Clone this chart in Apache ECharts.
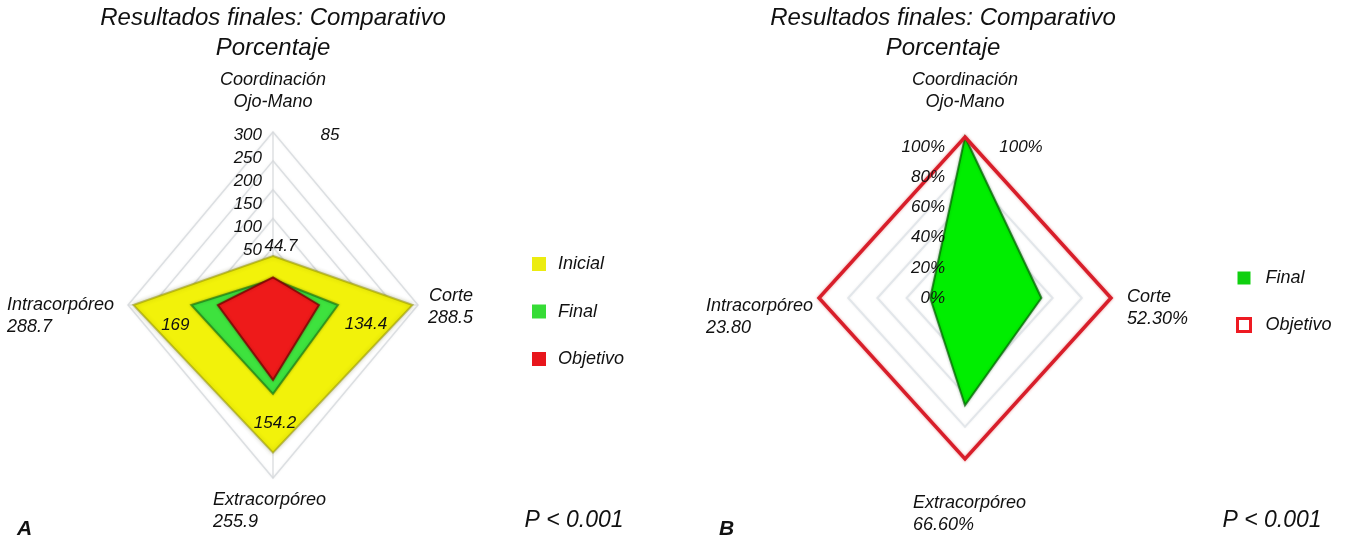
<!DOCTYPE html>
<html>
<head>
<meta charset="utf-8">
<script src="https://cdn.jsdelivr.net/npm/echarts@6/dist/echarts.min.js"></script>
<style>
  html, body { margin: 0; padding: 0; background: #fff; }
  #chart { width: 1346px; height: 540px; }
</style>
</head>
<body>
<div id="chart"></div>
<script>
// Spokes of both diagrams, clockwise from the top
const axisNames = ['Coordinación\nOjo-Mano', 'Corte', 'Extracorpóreo', 'Intracorpóreo'];

// Panel A: scores
const inicialA = [85, 288.5, 255.9, 288.7];
const finalA = [44.7, 134.4, 154.2, 169];
const objetivoA = [48, 95, 130, 114];
const ticksA = [0, 50, 100, 150, 200, 250, 300];

// Panel B: percentages
const finalB = [100, 52.3, 66.6, 23.8];
const objetivoB = [100, 100, 100, 100];
const ticksB = [0, 20, 40, 60, 80, 100];
const suffixB = ['', '%', '%', ''];

// Unit direction of each spoke in the x/y plane (up, right, down, left)
const DIRS = [[0, 1], [1, 0], [0, -1], [-1, 0]];
const FONT = '"Liberation Sans", Arial, sans-serif';

function txt(size, extra) {
  return Object.assign({
    fontFamily: FONT, fontStyle: 'italic', fontWeight: 'normal', fontSize: size, color: '#111',
    textBorderWidth: 0, textBorderColor: 'transparent'
  }, extra || {});
}

function vertex(api, v, i) {
  return api.coord([DIRS[i][0] * v, DIRS[i][1] * v]);
}

// Filled (or outlined) polygon of one data series
function polygonSeries(name, values, g, st) {
  return {
    type: 'custom', name: name, coordinateSystem: 'cartesian2d',
    xAxisIndex: g, yAxisIndex: g, silent: true, clip: false, z: st.z || 3,
    itemStyle: { color: st.legend || st.fill },
    data: [values],
    renderItem: function (params, api) {
      const pts = values.map(function (_, i) { return vertex(api, api.value(i), i); });
      return {
        type: 'polygon',
        shape: { points: pts },
        style: {
          fill: st.fill, stroke: st.stroke, lineWidth: st.lineWidth,
          lineJoin: 'miter', shadowBlur: st.blur || 0, shadowColor: st.shadow || 'rgba(0,0,0,0)'
        }
      };
    }
  };
}

// Concentric grid rings at each tick value
function ringSeries(ticks, g, color, width) {
  return {
    type: 'custom', coordinateSystem: 'cartesian2d', xAxisIndex: g, yAxisIndex: g,
    silent: true, clip: false, z: 1,
    data: ticks.filter(function (t) { return t > 0; }).map(function (t) { return [t, t]; }),
    renderItem: function (params, api) {
      const r = api.value(0);
      return {
        type: 'polygon',
        shape: { points: DIRS.map(function (d, i) { return vertex(api, r, i); }) },
        style: { fill: 'none', stroke: color, lineWidth: width, shadowBlur: 3, shadowColor: 'rgba(0,0,0,0.06)' }
      };
    }
  };
}

// Straight spokes from the centre to the outer ring
function spokeSeries(maxV, g, color) {
  return {
    type: 'custom', coordinateSystem: 'cartesian2d', xAxisIndex: g, yAxisIndex: g,
    silent: true, clip: false, z: 1,
    data: [[maxV, maxV]],
    renderItem: function (params, api) {
      const r = api.value(0);
      const c = api.coord([0, 0]);
      return {
        type: 'group',
        children: DIRS.map(function (d, i) {
          const e = vertex(api, r, i);
          return { type: 'line', shape: { x1: c[0], y1: c[1], x2: e[0], y2: e[1] }, style: { stroke: color, lineWidth: 1.2 } };
        })
      };
    }
  };
}

// Spoke titles placed at the outer end of every spoke
function axisNameSeries(maxV, g, texts, offsets, aligns) {
  return {
    type: 'scatter', xAxisIndex: g, yAxisIndex: g, symbolSize: 0, silent: true, z: 5,
    itemStyle: { opacity: 1, color: 'rgba(0,0,0,0)' },
    data: DIRS.map(function (d, i) {
      return {
        value: [d[0] * maxV, d[1] * maxV],
        label: Object.assign({
          show: true, position: 'inside', offset: offsets[i], align: aligns[i],
          verticalAlign: 'middle', formatter: texts[i], lineHeight: 22
        }, txt(18))
      };
    })
  };
}

// Value labels anchored to the vertex they describe
function valueLabelSeries(g, items) {
  return {
    type: 'scatter', xAxisIndex: g, yAxisIndex: g, symbolSize: 0, silent: true, z: 6,
    itemStyle: { opacity: 1, color: 'rgba(0,0,0,0)' },
    data: items.map(function (it) {
      const d = DIRS[it.i];
      return {
        value: [d[0] * it.v, d[1] * it.v],
        label: Object.assign({
          show: true, position: 'inside', offset: it.offset, align: 'center', verticalAlign: 'middle',
          formatter: it.text
        }, txt(17))
      };
    })
  };
}

const maxA = ticksA[ticksA.length - 1];
const maxB = ticksB[ticksB.length - 1];

const namesA = axisNames.map(function (n, i) { return i === 0 ? n : n + '\n' + inicialA[i]; });
const namesB = axisNames.map(function (n, i) { return i === 0 ? n : n + '\n' + finalB[i].toFixed(2) + suffixB[i]; });

const hiddenAxis = { show: false };

const option = {
  animation: false,
  backgroundColor: '#fff',
  title: [
    { text: 'Resultados finales: Comparativo\nPorcentaje', left: 273, top: 3, textAlign: 'center', padding: 0,
      textStyle: txt(24, { lineHeight: 30 }) },
    { text: 'Resultados finales: Comparativo\nPorcentaje', left: 943, top: 3, textAlign: 'center', padding: 0,
      textStyle: txt(24, { lineHeight: 30 }) },
    { text: 'P < 0.001', left: 574, top: 509, textAlign: 'center', padding: 0, textStyle: txt(23, { lineHeight: 24 }) },
    { text: 'P < 0.001', left: 1272, top: 509, textAlign: 'center', padding: 0, textStyle: txt(23, { lineHeight: 24 }) },
    { text: 'A', left: 17, top: 518, padding: 0, textStyle: txt(21, { fontWeight: 'bold', lineHeight: 22 }) },
    { text: 'B', left: 719, top: 518, padding: 0, textStyle: txt(21, { fontWeight: 'bold', lineHeight: 22 }) }
  ],
  legend: [
    {
      orient: 'vertical', left: 527, top: 250, itemWidth: 14, itemHeight: 14, itemGap: 29.5,
      selectedMode: false, icon: 'rect',
      textStyle: txt(18, { padding: [0, 0, 0, 7] }),
      data: [
        { name: 'Inicial', itemStyle: { color: '#ecec10' } },
        { name: 'Final', itemStyle: { color: '#36dc36' } },
        { name: 'Objetivo', itemStyle: { color: '#e8161c' } }
      ]
    },
    {
      orient: 'vertical', left: 1231, top: 264, itemWidth: 13, itemHeight: 13, itemGap: 29,
      selectedMode: false, icon: 'rect',
      textStyle: txt(18, { padding: [0, 0, 0, 10] }),
      data: [
        { name: 'Final', itemStyle: { color: '#10d010' } },
        { name: 'Objetivo', itemStyle: { color: '#ffffff', borderColor: '#ee1a22', borderWidth: 3 } }
      ]
    }
  ],
  grid: [
    { left: 128, top: 132, width: 290, height: 346 },   // panel A plot
    { left: 819, top: 137, width: 292, height: 322 },   // panel B plot
    { left: 273, top: 135, width: 1, height: 138 },     // panel A scale labels
    { left: 956, top: 147, width: 1, height: 151 }      // panel B scale labels
  ],
  xAxis: [
    Object.assign({ type: 'value', gridIndex: 0, min: -maxA, max: maxA }, hiddenAxis),
    Object.assign({ type: 'value', gridIndex: 1, min: -maxB, max: maxB }, hiddenAxis),
    Object.assign({ type: 'value', gridIndex: 2, min: 0, max: 1 }, hiddenAxis),
    Object.assign({ type: 'value', gridIndex: 3, min: 0, max: 1 }, hiddenAxis)
  ],
  yAxis: [
    Object.assign({ type: 'value', gridIndex: 0, min: -maxA, max: maxA }, hiddenAxis),
    Object.assign({ type: 'value', gridIndex: 1, min: -maxB, max: maxB }, hiddenAxis),
    {
      type: 'value', gridIndex: 2, min: ticksA[0], max: maxA, interval: ticksA[1] - ticksA[0], z: 10,
      axisLine: { show: false }, axisTick: { show: false }, splitLine: { show: false },
      axisLabel: Object.assign({ margin: 11, showMinLabel: true, showMaxLabel: true,
        formatter: function (v) { return v === 0 ? '' : String(v); } }, txt(17))
    },
    {
      type: 'value', gridIndex: 3, min: ticksB[0], max: maxB, interval: ticksB[1] - ticksB[0], z: 10,
      axisLine: { show: false }, axisTick: { show: false }, splitLine: { show: false },
      axisLabel: Object.assign({ margin: 11, showMinLabel: true, showMaxLabel: true,
        formatter: '{value}%' }, txt(17))
    }
  ],
  series: [
    // Panel A
    ringSeries(ticksA, 0, '#dcdfe2', 1.5),
    spokeSeries(maxA, 0, '#d6d8da'),
    polygonSeries('Inicial', inicialA, 0, { fill: '#f2f20a', stroke: 'rgba(150,150,0,0.55)', lineWidth: 2, blur: 4, shadow: 'rgba(90,90,0,0.35)', z: 2 }),
    polygonSeries('Final', finalA, 0, { fill: '#3ee23e', stroke: 'rgba(20,110,20,0.6)', lineWidth: 2, blur: 3, shadow: 'rgba(0,80,0,0.35)', z: 3 }),
    polygonSeries('Objetivo', objetivoA, 0, { fill: '#ee1a1a', stroke: 'rgba(120,0,0,0.75)', lineWidth: 2, blur: 3, shadow: 'rgba(80,0,0,0.35)', z: 4 }),
    axisNameSeries(maxA, 0, namesA,
      [[0, -41], [55, 2], [-60, 33], [-121, 11]],
      ['center', 'right', 'left', 'left']),
    valueLabelSeries(0, [
      { i: 0, v: inicialA[0], text: String(inicialA[0]), offset: [57, -121] },
      { i: 0, v: finalA[0], text: String(finalA[0]), offset: [8, -33] },
      { i: 1, v: finalA[1], text: String(finalA[1]), offset: [28, 19] },
      { i: 2, v: finalA[2], text: String(finalA[2]), offset: [2, 29] },
      { i: 3, v: finalA[3], text: String(finalA[3]), offset: [-16, 20] }
    ]),
    // Panel B
    ringSeries(ticksB.slice(0, -1), 1, '#e2e6ea', 2),
    polygonSeries('Final', finalB, 1, { fill: '#00ee00', stroke: 'rgba(0,100,0,0.7)', lineWidth: 2, blur: 3, shadow: 'rgba(0,80,0,0.35)', z: 3 }),
    polygonSeries('Objetivo', objetivoB, 1, { fill: 'none', legend: '#e8161c', stroke: '#d81e2a', lineWidth: 3.5, blur: 3, shadow: 'rgba(200,0,0,0.4)', z: 4 }),
    axisNameSeries(maxB, 1, namesB,
      [[0, -46], [16, 10], [-52, 55], [-113, 19]],
      ['center', 'left', 'left', 'left']),
    valueLabelSeries(1, [
      { i: 0, v: finalB[0], text: finalB[0] + '%', offset: [56, 10] }
    ])
  ]
};

const chart = echarts.init(document.getElementById('chart'), null, { renderer: 'canvas' });
chart.setOption(option);
</script>
</body>
</html>
